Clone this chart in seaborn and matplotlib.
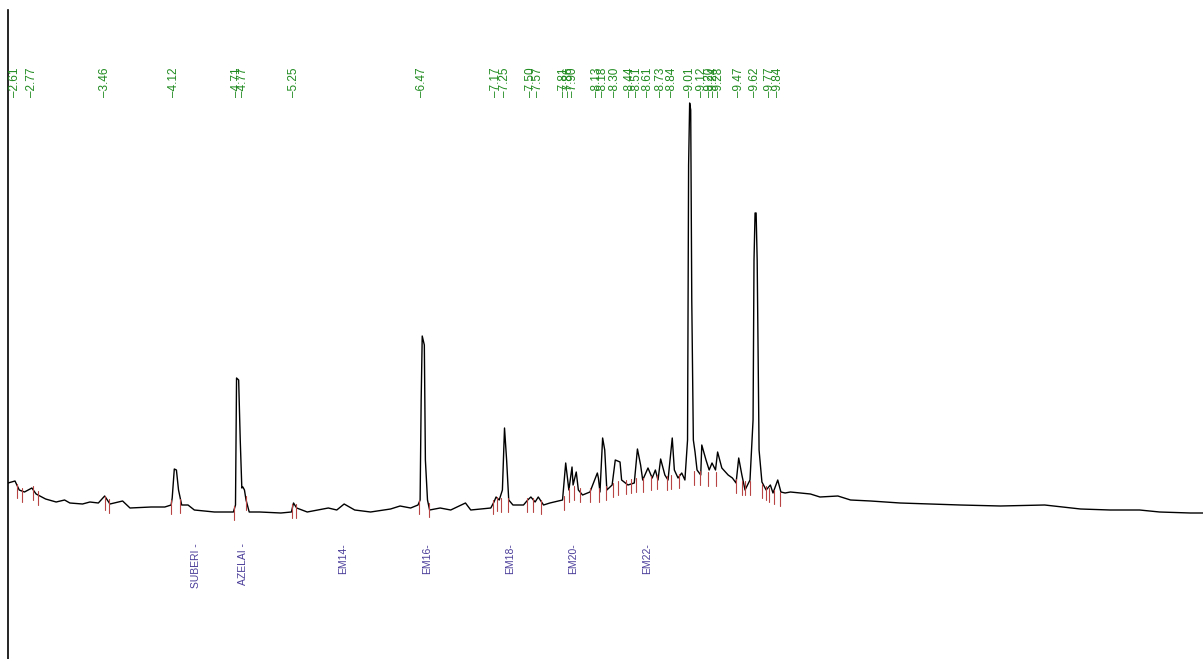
"""
Chromatogram recreation - trace, retention time labels, standards
"""

import numpy as np
import matplotlib
matplotlib.use('Agg')
import matplotlib.pyplot as plt
import seaborn as sns

sns.set_style('white')
plt.rcParams['font.family'] = ['Liberation Sans', 'DejaVu Sans']

# ---------------------------------------------------------------------------
# Data (time in minutes, detector response in a.u.)
# ---------------------------------------------------------------------------
trace_time = [
    2.544, 2.61, 2.65, 2.70, 2.77, 2.81, 2.90, 3.00, 3.08, 3.13, 3.25, 3.32,
    3.40, 3.46, 3.51, 3.63, 3.70, 3.90, 4.03, 4.09, 4.10, 4.12, 4.14, 4.16,
    4.19, 4.25, 4.31, 4.50, 4.68, 4.70, 4.71, 4.73, 4.745, 4.76, 4.77, 4.785,
    4.80, 4.83, 4.93, 5.13, 5.23, 5.25, 5.28, 5.38, 5.48, 5.58, 5.66, 5.73,
    5.83, 5.98, 6.17, 6.26, 6.36, 6.43, 6.45, 6.46, 6.47, 6.49, 6.50, 6.52,
    6.54, 6.64, 6.74, 6.88, 6.93, 7.12, 7.15, 7.17, 7.20, 7.23, 7.25, 7.27,
    7.29, 7.33, 7.43, 7.47, 7.50, 7.54, 7.57, 7.62, 7.68, 7.80, 7.83, 7.86,
    7.89, 7.90, 7.93, 7.95, 7.99, 8.06, 8.13, 8.14, 8.155, 8.18, 8.20, 8.22,
    8.27, 8.30, 8.345, 8.36, 8.42, 8.48, 8.51, 8.54, 8.56, 8.61, 8.65, 8.68,
    8.705, 8.73, 8.77, 8.80, 8.84, 8.86, 8.895, 8.93, 8.96, 8.985, 8.995,
    9.005, 9.015, 9.025, 9.04, 9.056, 9.075, 9.11, 9.12, 9.16, 9.19, 9.217,
    9.25, 9.27, 9.31, 9.37, 9.41, 9.445, 9.47, 9.50, 9.53, 9.577, 9.606,
    9.615, 9.625, 9.635, 9.645, 9.663, 9.69, 9.73, 9.77, 9.795, 9.84, 9.87,
    9.91, 9.96, 10.15, 10.24, 10.41, 10.53, 10.72, 11.00, 11.28, 11.57,
    11.95, 12.37, 12.71, 12.99, 13.27, 13.46, 13.75, 13.87,
]
trace_signal = [
    117, 119, 110, 108, 112, 106, 101, 98, 100, 97, 96, 98,
    97, 104, 96, 99, 92, 93, 93, 95, 102, 131, 130, 110,
    95, 95, 90, 88, 88, 95, 222, 220, 160, 112, 113, 110,
    100, 88, 88, 87, 88, 97, 92, 88, 90, 92, 90, 96,
    90, 88, 91, 94, 92, 95, 100, 200, 264, 255, 140, 100,
    90, 92, 90, 97, 90, 92, 98, 103, 100, 110, 172, 140,
    100, 95, 95, 100, 103, 98, 103, 95, 97, 100, 137, 110,
    133, 115, 128, 110, 105, 108, 127, 122, 108, 162, 150, 110,
    115, 140, 138, 120, 115, 117, 151, 135, 120, 132, 122, 130,
    120, 141, 125, 120, 162, 130, 122, 127, 120, 160, 435,
    497, 490, 300, 160, 148, 130, 125, 155, 140, 130, 137,
    130, 148, 132, 125, 122, 117, 142, 125, 110, 120, 180,
    340, 387, 387, 340, 150, 118, 110, 115, 107, 120, 108,
    107, 108, 106, 103, 104, 100, 99, 97, 96, 95,
    94, 95, 91, 90, 90, 88, 87, 87,
]

# integration marks (peak start / end) and the baseline level there
mark_time = [2.63, 2.68, 2.78, 2.83, 3.46, 3.50, 4.09, 4.17, 4.69, 4.80,
             5.24, 5.27, 6.44, 6.53, 7.14, 7.18, 7.22, 7.28, 7.46, 7.52,
             7.60, 7.81, 7.86, 7.91, 7.97, 8.06, 8.15, 8.21, 8.28, 8.33,
             8.40, 8.45, 8.50, 8.56, 8.64, 8.70, 8.79, 8.83, 8.90, 9.05,
             9.10, 9.18, 9.25, 9.44, 9.50, 9.53, 9.58, 9.69, 9.73, 9.76,
             9.80, 9.86]
mark_level = [112, 108, 110, 105, 100, 97, 96, 97, 90, 100,
              92, 92, 96, 93, 96, 99, 98, 98, 98, 98,
              96, 100, 108, 110, 108, 108, 108, 110, 113, 115,
              116, 117, 118, 118, 120, 121, 120, 121, 122, 125,
              125, 124, 124, 117, 115, 115, 115, 112, 110, 108,
              106, 104]

# retention time labels along the top
rt_labels = ['2.61', '2.77', '3.46', '4.12', '4.71', '4.77', '5.25', '6.47',
             '7.17', '7.25', '7.50', '7.57', '7.81', '7.86', '7.90', '8.13',
             '8.18', '8.30', '8.44', '8.51', '8.61', '8.73', '8.84', '9.01',
             '9.12', '9.20', '9.24', '9.28', '9.47', '9.62', '9.77', '9.84']

# named standards along the bottom
std_names = ['SUBERI -', 'AZELAI -', 'EM14-', 'EM16-', 'EM18-', 'EM20-', 'EM22-']
std_time = [4.33, 4.77, 5.72, 6.52, 7.30, 7.90, 8.60]

# ---------------------------------------------------------------------------
fig = plt.figure(figsize=(12.03, 6.59), dpi=100)
ax = fig.add_axes([8 / 1203, 0, 1 - 8 / 1203, 649 / 659])

sns.lineplot(x=trace_time, y=trace_signal, ax=ax, color='black',
             linewidth=1.0, sort=False, estimator=None)

for t, lv in zip(mark_time, mark_level):
    ax.plot([t, t], [lv + 4, lv - 10], color='#b84444', linewidth=0.8)

for lab in rt_labels:
    ax.text(float(lab), 503, '\u2013' + lab, rotation=90, ha='center',
            va='bottom', fontsize=8.5, color='#1e8a1e')

for name, t in zip(std_names, std_time):
    ax.text(t, 57, name, rotation=90, ha='center', va='top',
            fontsize=7.5, color='#4a3d99')

ax.set_xlim(2.5436, 13.871)
ax.set_ylim(-59, 590)
ax.set_xticks([])
ax.set_yticks([])
for side in ['top', 'right', 'bottom']:
    ax.spines[side].set_visible(False)
ax.spines['left'].set_color('black')
ax.spines['left'].set_linewidth(1.2)

plt.savefig('out.png', dpi=100)
plt.close()
